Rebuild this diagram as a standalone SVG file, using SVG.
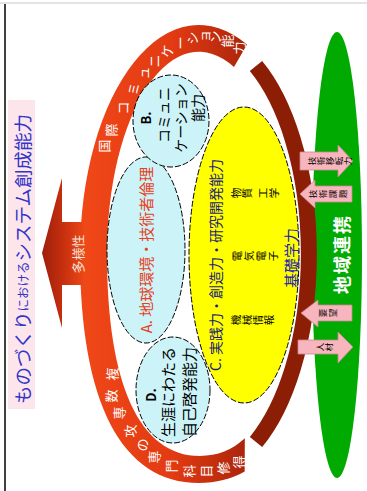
<svg xmlns="http://www.w3.org/2000/svg" width="367" height="491" viewBox="0 0 367 491">
<defs>
<style>
text{font-family:"Noto Sans CJK JP","Noto Sans",sans-serif;}
.c{text-anchor:middle;dominant-baseline:central;}
.s{dominant-baseline:central;}
.arc{font-size:13px;fill:#ffffff;}
.sm{font-size:10.5px;fill:#000000;}
.pt{font-size:8.5px;fill:#000000;}
.pa{fill:#f7b6be;stroke:#c98890;stroke-width:0.8;}
.bub{fill:#ccf3f8;stroke:#000000;stroke-width:1;stroke-dasharray:6 2;}
</style>
<linearGradient id="ringG" gradientUnits="userSpaceOnUse" x1="80" y1="0" x2="250" y2="0">
<stop offset="0" stop-color="#f04818"/>
<stop offset="0.55" stop-color="#e23a12"/>
<stop offset="1" stop-color="#a8240a"/>
</linearGradient>
<linearGradient id="arrG" gradientUnits="userSpaceOnUse" x1="42" y1="0" x2="86" y2="0">
<stop offset="0" stop-color="#9c200c"/>
<stop offset="0.5" stop-color="#c8300e"/>
<stop offset="1" stop-color="#f04a18"/>
</linearGradient>
</defs>
<rect width="367" height="491" fill="#ffffff"/>
<line x1="0" y1="3" x2="367" y2="3" stroke="#e4e4e4" stroke-width="2"/>
<line x1="5" y1="4" x2="5" y2="491" stroke="#000000" stroke-width="1.5"/>

<g id="title">
<rect x="8" y="100" width="27" height="309" fill="#fce6ec"/>
<text class="s" transform="translate(22,404) rotate(-90)" fill="#3434c8" font-size="18.5">ものづくり<tspan font-size="12.5">における</tspan>システム創成能力</text>
</g>

<g id="region">
<ellipse cx="337" cy="255" rx="25" ry="223" fill="#00aa00"/>
<text class="c" transform="translate(341,254) rotate(-90)" fill="#ffffff" font-size="18" font-weight="bold" letter-spacing="2">地域連携</text>
</g>

<g id="ring">
<path d="M247,44.5 A119,229 0 0 0 80,254 C80,403 122,483 199,483 C215.94,483 231.19,479.13 244.67,471.5 L244.83,438.35 C232.36,450.03 217.4,456 200,456 C140,456 107,385 107,254 A92,202 0 0 1 234,67 Z" fill="url(#ringG)"/>
<path d="M256,66 A110,220 0 0 1 256,442" fill="none" stroke="#8c1e06" stroke-width="16"/>
<g class="arc">
<text class="c" transform="translate(103,146) rotate(-90)">国</text>
<text class="c" transform="translate(110,130) rotate(-90)">際</text>
<text class="c" transform="translate(122,108) rotate(-90)">コ</text>
<text class="c" transform="translate(132,89) rotate(-90)">ミ</text>
<text class="c" transform="translate(142,73) rotate(-90)">ュ</text>
<text class="c" transform="translate(153,61) rotate(-90)">ニ</text>
<text class="c" transform="translate(166,51) rotate(-90)">ケ</text>
<text class="c" transform="translate(179,43) rotate(-90)">ー</text>
<text class="c" transform="translate(191,38) rotate(-90)">シ</text>
<text class="c" transform="translate(203,36) rotate(-90)">ョ</text>
<text class="c" transform="translate(214,37) rotate(-90)">ン</text>
<text class="c" transform="translate(226,41) rotate(-90)">能</text>
<text class="c" transform="translate(238,48) rotate(-90)">力</text>
<text class="c" transform="translate(111,374) rotate(-90)">複</text>
<text class="c" transform="translate(110,396) rotate(-90)">数</text>
<text class="c" transform="translate(118,413) rotate(-90)">専</text>
<text class="c" transform="translate(129,431) rotate(-90)">攻</text>
<text class="c" transform="translate(141,445) rotate(-90)">の</text>
<text class="c" transform="translate(153,457) rotate(-90)">専</text>
<text class="c" transform="translate(170,466) rotate(-90)">門</text>
<text class="c" transform="translate(188,471) rotate(-90)">科</text>
<text class="c" transform="translate(205,471) rotate(-90)">目</text>
<text class="c" transform="translate(222,468) rotate(-90)">修</text>
<text class="c" transform="translate(238,462) rotate(-90)">得</text>
</g>
</g>

<g id="diversity">
<polygon points="42,253 62,178 62,222 86,222 86,285 62,285 62,328" fill="url(#arrG)"/>
<text class="c" transform="translate(77,254) rotate(-90)" fill="#f8e0d8" font-size="13">多様性</text>
</g>

<g id="nodeA">
<ellipse class="bub" cx="146" cy="250" rx="39" ry="93"/>
<text class="c" transform="translate(145,250) rotate(-90)" fill="#e8401a" font-size="15">A. 地球環境・技術者倫理</text>
</g>

<g id="nodeB">
<ellipse class="bub" cx="171" cy="121" rx="38" ry="46"/>
<text class="c" transform="translate(145,118) rotate(-90)" fill="#000000" font-size="13" font-weight="bold">B.</text>
<text class="c" transform="translate(163,115) rotate(-90)" fill="#000000" font-size="14">コミュニ</text>
<text class="c" transform="translate(180,118) rotate(-90)" fill="#000000" font-size="14">ケーション</text>
<text class="c" transform="translate(197,108) rotate(-90)" fill="#000000" font-size="14">能力</text>
</g>

<g id="nodeD">
<ellipse class="bub" cx="173" cy="390" rx="37" ry="53"/>
<text class="c" transform="translate(150,395) rotate(-90)" fill="#000000" font-size="13" font-weight="bold">D.</text>
<text class="c" transform="translate(167,392) rotate(-90)" fill="#000000" font-size="15">生涯にわたる</text>
<text class="c" transform="translate(188,392) rotate(-90)" fill="#000000" font-size="15">自己啓発能力</text>
</g>

<g id="nodeC">
<ellipse cx="244" cy="255" rx="55" ry="148" fill="#ffff00" stroke="#000000" stroke-width="1" stroke-dasharray="6 2"/>
<text class="s" transform="translate(215,371) rotate(-90)" fill="#1c1c78" font-size="14">C. 実践力・創造力・研究開発能力</text>
<g class="sm">
<text class="c" transform="translate(235,193) rotate(-90)">物</text>
<text class="c" transform="translate(246,193) rotate(-90)">質</text>
<text class="c" transform="translate(262,193) rotate(-90)">工</text>
<text class="c" transform="translate(273,193) rotate(-90)">学</text>
<text class="c" transform="translate(236,256) rotate(-90)">電</text>
<text class="c" transform="translate(248,256) rotate(-90)">気</text>
<text class="c" transform="translate(260,256) rotate(-90)">電</text>
<text class="c" transform="translate(272,256) rotate(-90)">子</text>
<text class="c" transform="translate(235,320) rotate(-90)">機</text>
<text class="c" transform="translate(246,320) rotate(-90)">械</text>
<text class="c" transform="translate(257,320) rotate(-90)">情</text>
<text class="c" transform="translate(268,320) rotate(-90)">報</text>
</g>
<text class="c" transform="translate(290,258) rotate(-90)" fill="#2424b0" font-size="15">基礎学力</text>
</g>

<g id="flows">
<polygon class="pa" points="300,152 338,152 338,145 353,161 338,177 338,170 300,170"/>
<g class="pt">
<text class="c" transform="translate(311,161) rotate(-90)">技</text>
<text class="c" transform="translate(320,161) rotate(-90)">術</text>
<text class="c" transform="translate(329,161) rotate(-90)">移</text>
<text class="c" transform="translate(338,161) rotate(-90)">転</text>
<text class="c" transform="translate(347,161) rotate(-90)">力</text>
</g>
<polygon class="pa" points="300,194 315,180 315,186 352,186 352,202 315,202 315,208"/>
<g class="pt">
<text class="c" transform="translate(312,194) rotate(-90)">技</text>
<text class="c" transform="translate(322,194) rotate(-90)">術</text>
<text class="c" transform="translate(332,194) rotate(-90)">課</text>
<text class="c" transform="translate(342,194) rotate(-90)">題</text>
</g>
<polygon class="pa" points="301,313 318,300 318,305 352,305 352,321 318,321 318,327"/>
<g class="pt">
<text class="c" transform="translate(322,313) rotate(-90)">要</text>
<text class="c" transform="translate(332,313) rotate(-90)">望</text>
</g>
<polygon class="pa" points="298,340 338,340 338,332 353,347 338,363 338,354 298,354"/>
<g class="pt">
<text class="c" transform="translate(319,347) rotate(-90)">人</text>
<text class="c" transform="translate(328,347) rotate(-90)">材</text>
</g>
</g>
</svg>
